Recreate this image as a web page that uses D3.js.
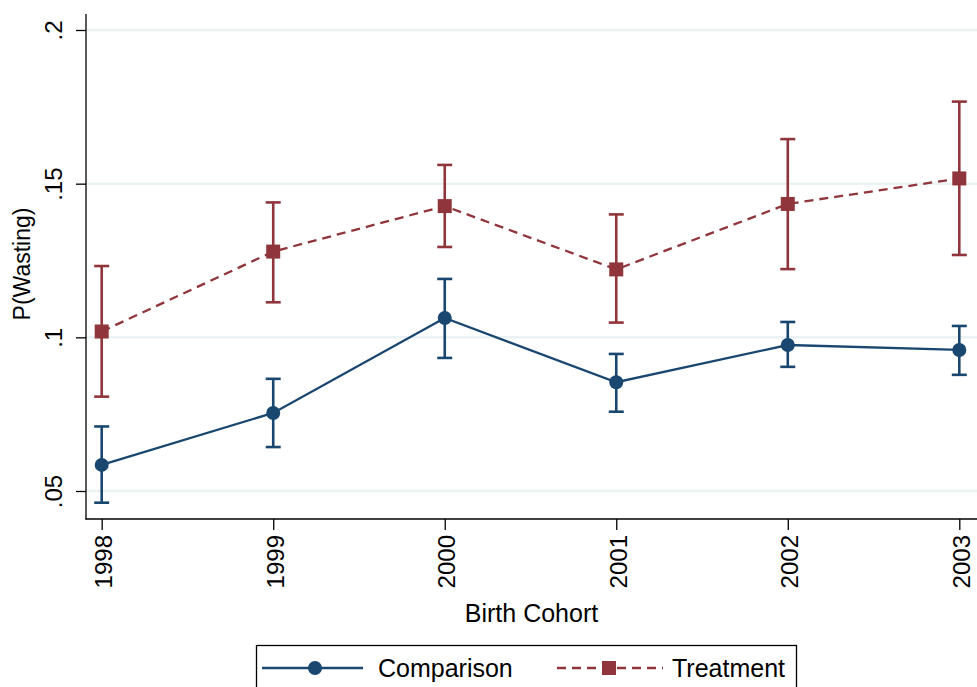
<!DOCTYPE html>
<html><head><meta charset="utf-8">
<script src="https://cdn.jsdelivr.net/npm/d3@7"></script>
<style>body{margin:0;background:#fff}svg{display:block;font-family:"Liberation Sans",Arial,sans-serif}</style>
</head><body><svg id="c" width="977" height="687"></svg>
<script>
const years = [1998, 1999, 2000, 2001, 2002, 2003];
const comparison = [0.0585, 0.0754, 0.1063, 0.0854, 0.0975, 0.0959];
const comparisonLo = [0.0462, 0.0643, 0.0933, 0.0758, 0.0904, 0.0878];
const comparisonHi = [0.0710, 0.0865, 0.1190, 0.0946, 0.1050, 0.1037];
const treatment = [0.1019, 0.1279, 0.1427, 0.1221, 0.1434, 0.1517];
const treatmentLo = [0.0807, 0.1114, 0.1294, 0.1048, 0.1222, 0.1268];
const treatmentHi = [0.1232, 0.1439, 0.1561, 0.1400, 0.1645, 0.1767];
const yTicks = [0.05, 0.1, 0.15, 0.2];
const yTickLabels = [".05", ".1", ".15", ".2"];

(function () {
const blue = "#1a476f", red = "#90353b";
const svg = d3.select("#c");
const x = d3.scaleLinear().domain([1998, 2003]).range([101.7, 959.3]);
const y = d3.scaleLinear().domain([0.05, 0.2]).range([491, 30]);
const pL = 86, pB = 519, pT = 14;

// gridlines
svg.append("g").selectAll("line").data(yTicks).join("line")
  .attr("x1", pL).attr("x2", 977).attr("y1", d => y(d)).attr("y2", d => y(d))
  .attr("stroke", "#eaf2f3").attr("stroke-width", 2.5);

// y axis
const yAxis = d3.axisLeft(y).tickValues(yTicks).tickFormat((d, i) => yTickLabels[i]).tickSize(10).tickPadding(0);
const gy = svg.append("g").attr("transform", `translate(${pL},0)`).call(yAxis);
gy.select(".domain").remove();
gy.selectAll(".tick line").attr("stroke", "#000").attr("stroke-width", 1.3);
gy.selectAll(".tick text").remove();
gy.selectAll(".tick").append("text")
  .attr("transform", "translate(-24,0) rotate(-90)")
  .attr("text-anchor", "middle").attr("dy", 0)
  .attr("fill", "#000").style("font-size", "24px").text((d, i) => yTickLabels[i]);
svg.append("line").attr("x1", pL).attr("x2", pL).attr("y1", pT).attr("y2", pB + 0.6)
  .attr("stroke", "#000").attr("stroke-width", 1.3);

// x axis
const xAxis = d3.axisBottom(x).tickValues(years).tickFormat(d3.format("d")).tickSize(11);
const gx = svg.append("g").attr("transform", `translate(0,${pB})`).call(xAxis);
gx.select(".domain").remove();
gx.selectAll(".tick line").attr("stroke", "#000").attr("stroke-width", 1.3);
gx.selectAll(".tick text").remove();
gx.selectAll(".tick").append("text")
  .attr("transform", "translate(10,16) rotate(-90)")
  .attr("text-anchor", "end").attr("fill", "#000").style("font-size", "24px")
  .text(d => d);
svg.append("line").attr("x1", pL - 0.6).attr("x2", 977).attr("y1", pB).attr("y2", pB)
  .attr("stroke", "#000").attr("stroke-width", 1.3);

// titles
svg.append("text").attr("transform", "translate(30,264) rotate(-90)").attr("text-anchor", "middle")
  .style("font-size", "23px").attr("fill", "#000").text("P(Wasting)");
svg.append("text").attr("x", 531.5).attr("y", 621.5).attr("text-anchor", "middle")
  .style("font-size", "25px").attr("fill", "#000").text("Birth Cohort");

function series(vals, lo, hi, color, dash, marker) {
  const g = svg.append("g");
  const pts = years.map((yr, i) => ({yr, v: vals[i], lo: lo[i], hi: hi[i]}));
  g.append("path").datum(pts)
    .attr("d", d3.line().x(d => x(d.yr)).y(d => y(d.v)))
    .attr("fill", "none").attr("stroke", color).attr("stroke-width", 2.3)
    .attr("stroke-dasharray", dash);
  const eb = g.selectAll("g.eb").data(pts).join("g").attr("class", "eb");
  eb.append("line").attr("x1", d => x(d.yr)).attr("x2", d => x(d.yr))
    .attr("y1", d => y(d.lo)).attr("y2", d => y(d.hi)).attr("stroke", color).attr("stroke-width", 2.6);
  ["lo", "hi"].forEach(k => {
    eb.append("line").attr("x1", d => x(d.yr) - 7.5).attr("x2", d => x(d.yr) + 7.5)
      .attr("y1", d => y(d[k])).attr("y2", d => y(d[k])).attr("stroke", color).attr("stroke-width", 2.6);
  });
  if (marker === "circle") {
    g.selectAll("circle").data(pts).join("circle").attr("cx", d => x(d.yr)).attr("cy", d => y(d.v))
      .attr("r", 7).attr("fill", color);
  } else {
    g.selectAll("rect").data(pts).join("rect").attr("x", d => x(d.yr) - 7).attr("y", d => y(d.v) - 7)
      .attr("width", 14).attr("height", 14).attr("fill", color);
  }
}
series(comparison, comparisonLo, comparisonHi, blue, null, "circle");
series(treatment, treatmentLo, treatmentHi, red, "9,6", "square");

// legend
const lg = svg.append("g");
lg.append("rect").attr("x", 256.5).attr("y", 645.5).attr("width", 540).attr("height", 60)
  .attr("fill", "#fff").attr("stroke", "#000").attr("stroke-width", 1.3);
lg.append("line").attr("x1", 262).attr("x2", 363).attr("y1", 668).attr("y2", 668)
  .attr("stroke", blue).attr("stroke-width", 2.6);
lg.append("circle").attr("cx", 315).attr("cy", 668).attr("r", 7).attr("fill", blue);
lg.append("text").attr("x", 378).attr("y", 677).style("font-size", "25px").attr("fill", "#000").text("Comparison");
lg.append("line").attr("x1", 557).attr("x2", 663).attr("y1", 668).attr("y2", 668)
  .attr("stroke", red).attr("stroke-width", 2.6).attr("stroke-dasharray", "9,6");
lg.append("rect").attr("x", 602).attr("y", 661).attr("width", 14).attr("height", 14).attr("fill", red);
lg.append("text").attr("x", 672).attr("y", 677).style("font-size", "25px").attr("fill", "#000").text("Treatment");
})();
</script></body></html>
